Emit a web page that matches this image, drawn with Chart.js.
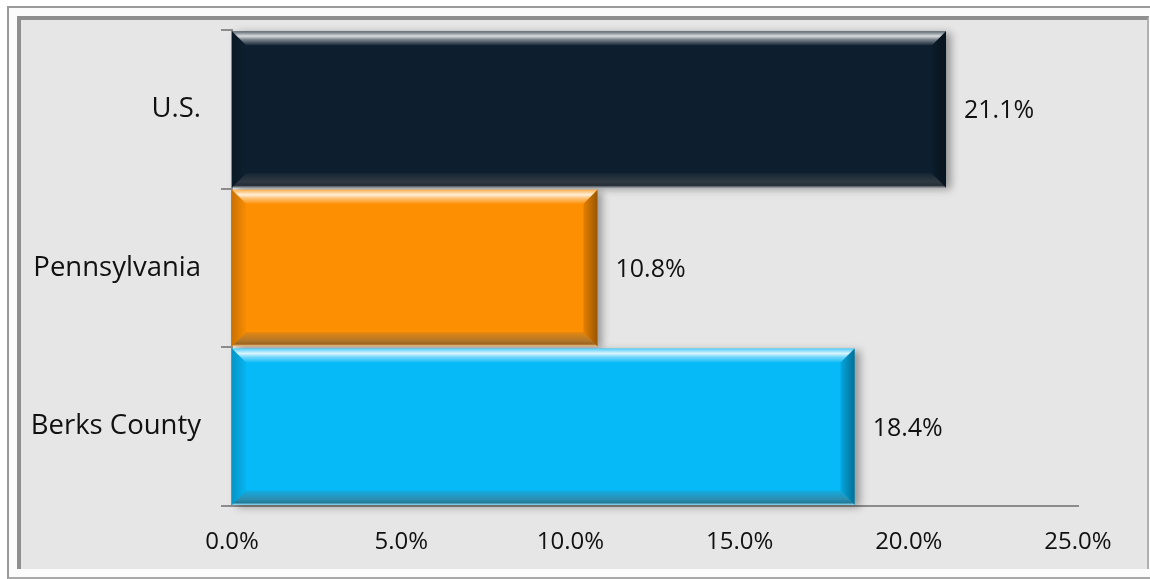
<!DOCTYPE html>
<html>
<head>
<meta charset="utf-8">
<script src="https://cdn.jsdelivr.net/npm/chart.js@4"></script>
<style>
  html, body { margin: 0; padding: 0; background: #fff; width: 1150px; height: 579px; overflow: hidden; }
  #frame {
    position: absolute; left: 7px; top: 6px; width: 1143px; height: 573px;
    box-sizing: border-box; background: #fbfbfb;
    border-top: 2px solid #9a9a9a; border-left: 2px solid #9a9a9a; border-bottom: 2px solid #a8a8a8;
  }
  #inner {
    position: absolute; left: 17px; top: 16px; width: 1132px; height: 553px;
    box-sizing: border-box; background: #e6e6e6;
    border-top: 4px solid #8e8e8e; border-left: 4px solid #8e8e8e; border-right: 2px solid #b0b0b0;
  }
  #chart { position: absolute; left: 0; top: 0; }
</style>
</head>
<body>
<div id="frame"></div>
<div id="inner"></div>
<canvas id="chart" width="1150" height="579"></canvas>
<script>
// data
const categories = ["U.S.", "Pennsylvania", "Berks County"];
const values = [21.1, 10.8, 18.4];
const barColors = ["#0d1f2f", "#fd8f02", "#06b9f7"];
const xTicks = [0, 5, 10, 15, 20, 25];

const FONT = "'Open Sans', 'Noto Sans', sans-serif";

// bevel + soft shadow, a bit like the old office "3D" bars
const bevelPlugin = {
  id: "bevel",
  beforeDatasetDraw(chart) {
    const ctx = chart.ctx;
    ctx.shadowColor = "rgba(0,0,0,0.35)";
    ctx.shadowBlur = 8;
    ctx.shadowOffsetX = 5;
    ctx.shadowOffsetY = 2;
  },
  afterDatasetDraw(chart) {
    const ctx = chart.ctx;
    ctx.shadowColor = "transparent";
    ctx.shadowBlur = 0;
    ctx.shadowOffsetX = 0;
    ctx.shadowOffsetY = 0;

    const meta = chart.getDatasetMeta(0);
    meta.data.forEach((bar) => {
      const l = bar.base, r = bar.x;
      const t = bar.y - bar.height / 2, b = bar.y + bar.height / 2;
      const s = 14;
      ctx.save();

      // top
      let g = ctx.createLinearGradient(0, t, 0, t + s);
      g.addColorStop(0, "rgba(255,255,255,0.3)");
      g.addColorStop(0.35, "rgba(255,255,255,0.85)");
      g.addColorStop(0.6, "rgba(255,255,255,0.45)");
      g.addColorStop(1, "rgba(255,255,255,0.05)");
      ctx.fillStyle = g;
      ctx.beginPath();
      ctx.moveTo(l, t); ctx.lineTo(r, t); ctx.lineTo(r - s, t + s); ctx.lineTo(l + s, t + s);
      ctx.closePath(); ctx.fill();

      // bottom
      g = ctx.createLinearGradient(0, b - s, 0, b);
      g.addColorStop(0, "rgba(90,90,90,0.15)");
      g.addColorStop(0.6, "rgba(90,90,90,0.45)");
      g.addColorStop(0.85, "rgba(60,60,60,0.5)");
      g.addColorStop(1, "rgba(255,255,255,0.6)");
      ctx.fillStyle = g;
      ctx.beginPath();
      ctx.moveTo(l, b); ctx.lineTo(r, b); ctx.lineTo(r - s, b - s); ctx.lineTo(l + s, b - s);
      ctx.closePath(); ctx.fill();

      // left
      g = ctx.createLinearGradient(l, 0, l + s, 0);
      g.addColorStop(0, "rgba(0,0,0,0.2)");
      g.addColorStop(1, "rgba(0,0,0,0.02)");
      ctx.fillStyle = g;
      ctx.beginPath();
      ctx.moveTo(l, t); ctx.lineTo(l + s, t + s); ctx.lineTo(l + s, b - s); ctx.lineTo(l, b);
      ctx.closePath(); ctx.fill();

      // right
      g = ctx.createLinearGradient(r - s, 0, r, 0);
      g.addColorStop(0, "rgba(0,0,0,0.1)");
      g.addColorStop(1, "rgba(0,0,0,0.4)");
      ctx.fillStyle = g;
      ctx.beginPath();
      ctx.moveTo(r, t); ctx.lineTo(r - s, t + s); ctx.lineTo(r - s, b - s); ctx.lineTo(r, b);
      ctx.closePath(); ctx.fill();

      ctx.restore();
    });
  }
};

// value labels right of each bar
const valueLabels = {
  id: "valueLabels",
  afterDatasetsDraw(chart) {
    const ctx = chart.ctx;
    const meta = chart.getDatasetMeta(0);
    ctx.save();
    ctx.font = "25px " + FONT;
    ctx.fillStyle = "#111";
    ctx.textAlign = "left";
    ctx.textBaseline = "middle";
    meta.data.forEach((bar, i) => {
      ctx.fillText(values[i].toFixed(1) + "%", bar.x + 18, bar.y + 2);
    });
    ctx.restore();
  }
};

new Chart(document.getElementById("chart"), {
  type: "bar",
  data: {
    labels: categories,
    datasets: [{
      data: values,
      backgroundColor: barColors,
      borderWidth: 0,
      barPercentage: 1,
      categoryPercentage: 0.985,
      clip: false
    }]
  },
  options: {
    indexAxis: "y",
    responsive: false,
    animation: false,
    events: [],
    layout: { padding: { top: 30, right: 72, left: 0, bottom: 0 } },
    plugins: { legend: { display: false }, tooltip: { enabled: false }, title: { display: false } },
    scales: {
      x: {
        min: 0,
        max: 25,
        afterBuildTicks: (scale) => { scale.ticks = xTicks.map((v) => ({ value: v })); },
        afterFit: (scale) => { scale.height = 73; },
        grid: { display: false, drawTicks: false },
        border: { display: true, color: "#8c8c8c", width: 2 },
        ticks: {
          padding: 22,
          color: "#111",
          font: { family: FONT, size: 24 },
          callback: (v) => Number(v).toFixed(1) + "%"
        }
      },
      y: {
        afterFit: (scale) => {
          scale.width = 232;
          scale.paddingTop = 0;
          scale.paddingBottom = 0;
        },
        grid: { drawOnChartArea: false, drawTicks: true, tickLength: 11, color: "#8c8c8c", lineWidth: 2 },
        border: { display: true, color: "#8c8c8c", width: 2 },
        ticks: {
          padding: 20,
          color: "#111",
          font: { family: FONT, size: 27.5 }
        }
      }
    }
  },
  plugins: [bevelPlugin, valueLabels]
});
</script>
</body>
</html>
